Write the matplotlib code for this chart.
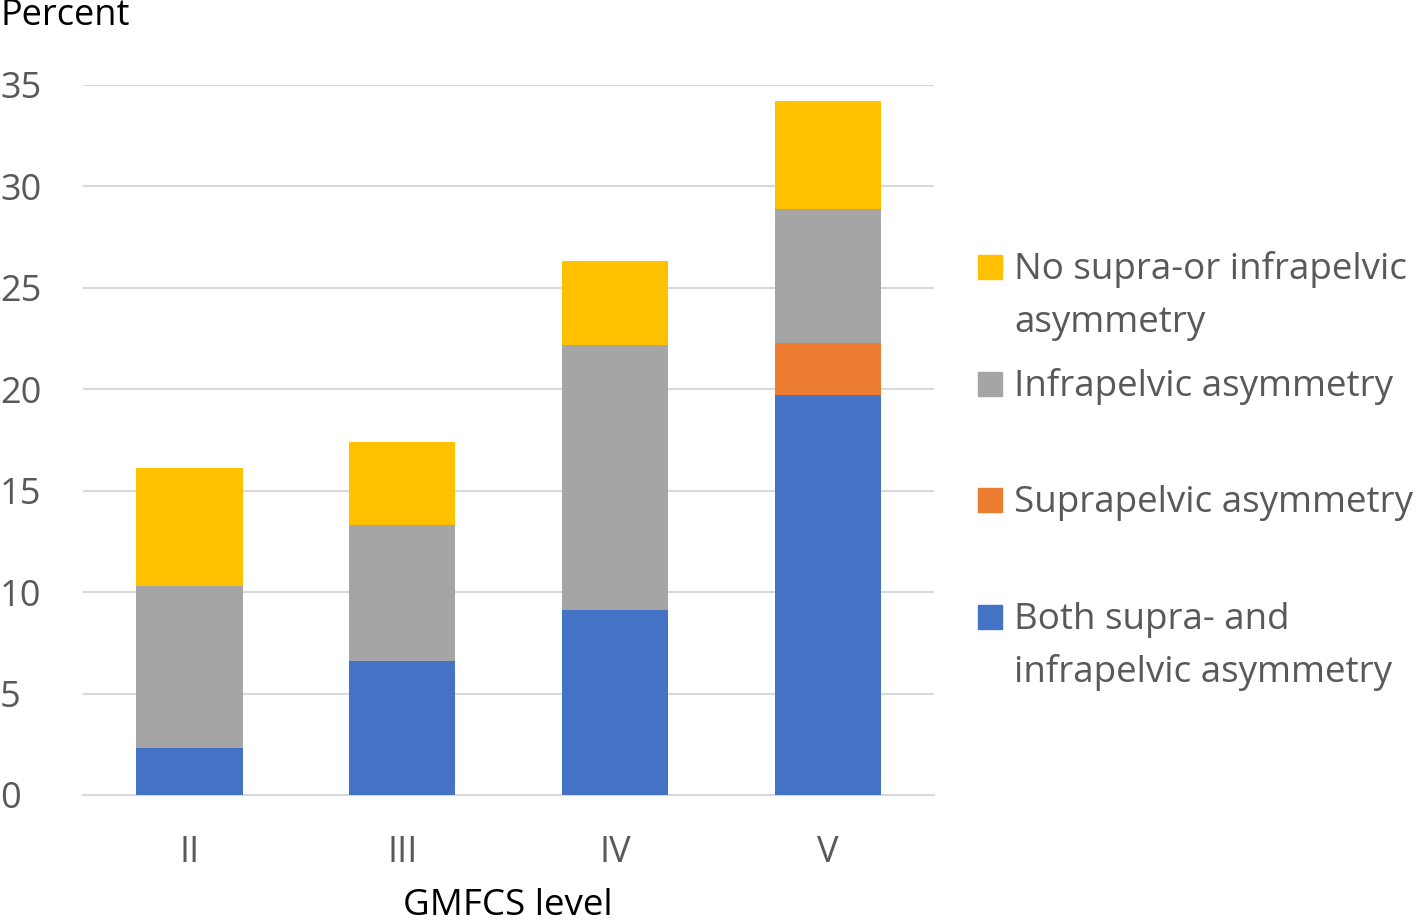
import matplotlib

matplotlib.use("Agg")
import matplotlib.pyplot as plt
from matplotlib.patches import Rectangle
from matplotlib.transforms import ScaledTranslation

plt.rcParams["font.family"] = ["Open Sans", "DejaVu Sans"]

levels = ["II", "III", "IV", "V"]
both = [2.3, 6.6, 9.1, 19.7]
supra = [0.0, 0.0, 0.0, 2.6]
infra = [8.0, 6.7, 13.1, 6.6]
neither = [5.8, 4.1, 4.1, 5.3]

series = [
    (both, "#4472C4", "Both supra- and\ninfrapelvic asymmetry"),
    (supra, "#ED7D31", "Suprapelvic asymmetry"),
    (infra, "#A5A5A5", "Infrapelvic asymmetry"),
    (neither, "#FFC000", "No supra-or infrapelvic\nasymmetry"),
]

fig = plt.figure(figsize=(14.18, 9.23), dpi=100)
ax = fig.add_axes([0.0585, 0.1387, 0.6005, 0.7693])

x = range(len(levels))
bottom = [0.0] * len(levels)
for vals, color, _ in series:
    ax.bar(x, vals, width=0.5, bottom=bottom, color=color, zorder=3)
    bottom = [b + v for b, v in zip(bottom, vals)]

ax.set_xlim(-0.5, 3.5)
ax.set_ylim(0, 35)
ax.set_yticks(range(0, 36, 5))
ax.grid(axis="y", color="#d9d9d9", linewidth=1.5, zorder=0)
for s in ["top", "right", "left"]:
    ax.spines[s].set_visible(False)
ax.spines["bottom"].set_color("#d9d9d9")
ax.spines["bottom"].set_linewidth(1.5)
ax.tick_params(axis="both", length=0, labelsize=26, colors="#595959")
ax.tick_params(axis="x", pad=29)
ax.tick_params(axis="y", pad=0)
ax.set_xticks(list(x))
ax.set_xticklabels(levels)
# y tick labels left-aligned at the figure edge
for lbl in ax.get_yticklabels():
    lbl.set_horizontalalignment("left")
    lbl.set_transform(lbl.get_transform() + ScaledTranslation(-83 / 100, 0, fig.dpi_scale_trans))

fig.text(0.0, 1 - 16 / 923, "Percent", fontsize=26, color="black", ha="left", va="center")
fig.text(0.358, 1 - 906 / 923, "GMFCS level", fontsize=26.5, color="black", ha="center", va="center")

# legend drawn by hand to match the layout; one text per line
legend_rows = [(267, "#FFC000", series[3][2]), (384, "#A5A5A5", series[2][2]),
               (500, "#ED7D31", series[1][2]), (617, "#4472C4", series[0][2])]
for ypx, color, text in legend_rows:
    yf = 1 - ypx / 923
    fig.patches.append(Rectangle((978 / 1418, yf - 12 / 923), 24 / 1418, 24 / 923,
                                 transform=fig.transFigure, color=color))
    for i, line in enumerate(text.split("\n")):
        fig.text(1014 / 1418, 1 - (ypx + 12 + 53 * i) / 923, line, fontsize=26.5,
                 color="#595959", ha="left", va="baseline")

fig.savefig("out.png", dpi=100)
